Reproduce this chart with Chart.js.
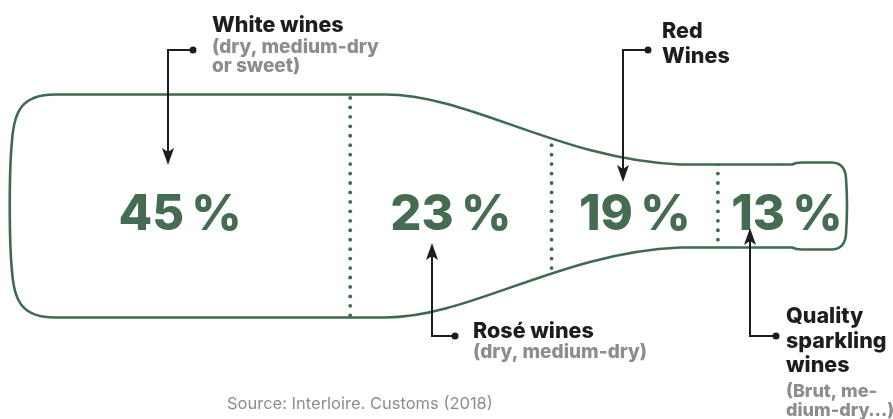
<!DOCTYPE html>
<html>
<head>
<meta charset="utf-8">
<script src="https://cdn.jsdelivr.net/npm/chart.js@4.4.0/dist/chart.umd.min.js"></script>
<style>
  html, body { margin: 0; padding: 0; background: #ffffff; }
  #bottleChart { display: block; }
</style>
</head>
<body>
<canvas id="bottleChart" width="893" height="419"></canvas>
<script>
// share of Loire wine exports by type
const categories = ['White wines', 'Rosé wines', 'Red Wines', 'Quality sparkling wines'];
const shares = [45, 23, 19, 13];
const titleLines = [['White wines'], ['Rosé wines'], ['Red', 'Wines'], ['Quality', 'sparkling', 'wines']];
const noteLines = [['(dry, medium-dry', 'or sweet)'], ['(dry, medium-dry)'], [], ['(Brut, me-', 'dium-dry\u2026)']];
const sourceText = 'Source: Interloire. Customs (2018)';

const GREEN = '#3f6a4d';
const DARK = '#1d1d1f';
const GREY = '#8d8d8f';
const FONT = 'Inter, "Open Sans", "DejaVu Sans", sans-serif';

// bottle outline, drawn around the bar row
function bottlePath(ctx, cy) {
  const t = (dy) => cy - dy;
  const b = (dy) => cy + dy;
  ctx.beginPath();
  ctx.moveTo(55, t(111.5));
  ctx.lineTo(385, t(111.5));
  ctx.bezierCurveTo(470, t(111.5), 560, t(46.5), 680, t(41.5));
  ctx.lineTo(792, t(41.5));
  ctx.quadraticCurveTo(796, t(43.5), 802, t(43.5));
  ctx.lineTo(832, t(43.5));
  ctx.quadraticCurveTo(845, t(43), 846, t(28));
  ctx.quadraticCurveTo(848, cy, 846, b(28));
  ctx.quadraticCurveTo(845, b(43), 832, b(43.5));
  ctx.lineTo(802, b(43.5));
  ctx.quadraticCurveTo(796, b(43.5), 792, b(41.5));
  ctx.lineTo(680, b(41.5));
  ctx.bezierCurveTo(560, b(46.5), 470, b(111.5), 385, b(111.5));
  ctx.lineTo(55, b(111.5));
  ctx.bezierCurveTo(22, b(111.5), 14, b(95), 12, b(65));
  ctx.bezierCurveTo(9, b(35), 9, t(35), 12, t(65));
  ctx.bezierCurveTo(14, t(95), 22, t(111.5), 55, t(111.5));
  ctx.closePath();
}

function arrowHead(ctx, x, tipY, dir) {
  ctx.beginPath();
  ctx.moveTo(x, tipY);
  ctx.lineTo(x - 6, tipY - dir * 17);
  ctx.lineTo(x, tipY - dir * 13);
  ctx.lineTo(x + 6, tipY - dir * 17);
  ctx.closePath();
  ctx.fill();
}

function callout(ctx, c) {
  ctx.save();
  ctx.strokeStyle = DARK;
  ctx.fillStyle = DARK;
  ctx.lineWidth = 2;
  ctx.beginPath();
  ctx.moveTo(c.dot[0], c.dot[1]);
  ctx.lineTo(c.ax, c.dot[1]);
  ctx.lineTo(c.ax, c.tip - c.dir * 12);
  ctx.stroke();
  arrowHead(ctx, c.ax, c.tip, c.dir);
  ctx.beginPath();
  ctx.arc(c.dot[0], c.dot[1], 3.5, 0, Math.PI * 2);
  ctx.fill();

  ctx.textAlign = 'left';
  ctx.textBaseline = 'alphabetic';
  let y = c.textY;
  ctx.fillStyle = DARK;
  ctx.font = '800 ' + c.titleSize + 'px ' + FONT;
  titleLines[c.idx].forEach((line, i) => {
    if (i > 0) y += c.titleGap;
    ctx.fillText(line, c.tx, y);
  });
  ctx.fillStyle = GREY;
  ctx.font = '800 ' + c.noteSize + 'px ' + FONT;
  noteLines[c.idx].forEach((line, i) => {
    y += i === 0 ? c.firstNoteGap : c.noteGap;
    ctx.fillText(line, c.tx, y);
  });
  ctx.restore();
}

const callouts = [
  { idx: 0, dot: [193, 50], ax: 168, tip: 165, dir: 1, tx: 212, textY: 32, titleSize: 21.5, titleGap: 24, noteSize: 19, firstNoteGap: 21, noteGap: 18.5 },
  { idx: 2, dot: [648, 50], ax: 623, tip: 182, dir: 1, tx: 662, textY: 38, titleSize: 21.5, titleGap: 25, noteSize: 19, firstNoteGap: 21, noteGap: 19 },
  { idx: 1, dot: [455, 336], ax: 432, tip: 243, dir: -1, tx: 473, textY: 338, titleSize: 21.5, titleGap: 24, noteSize: 19, firstNoteGap: 20, noteGap: 19 },
  { idx: 3, dot: [776, 336], ax: 750, tip: 228, dir: -1, tx: 786, textY: 323, titleSize: 21.5, titleGap: 24.5, noteSize: 18, firstNoteGap: 25, noteGap: 19 }
];

const bottlePlugin = {
  id: 'bottle',
  afterDatasetsDraw(chart) {
    const ctx = chart.ctx;
    const bars = chart.data.datasets.map((d, i) => chart.getDatasetMeta(i).data[0]);
    const cy = bars[0].y;
    const bottleLeft = 10, bottleRight = 846;

    // dotted dividers at segment boundaries, clipped to the bottle
    ctx.save();
    bottlePath(ctx, cy);
    ctx.clip();
    ctx.fillStyle = GREEN;
    bars.slice(0, -1).forEach(bar => {
      for (let y = cy - 120 + 2.5; y < cy + 120; y += 9.45) {
        ctx.beginPath();
        ctx.arc(bar.x, y, 1.9, 0, Math.PI * 2);
        ctx.fill();
      }
    });
    ctx.restore();

    ctx.save();
    bottlePath(ctx, cy);
    ctx.strokeStyle = GREEN;
    ctx.lineWidth = 2.6;
    ctx.stroke();
    ctx.restore();

    // percentage labels at segment centres (outer segments run to the bottle ends)
    ctx.save();
    ctx.fillStyle = '#456c51';
    ctx.font = '800 49px ' + FONT;
    ctx.textAlign = 'center';
    ctx.textBaseline = 'alphabetic';
    bars.forEach((bar, i) => {
      const left = i === 0 ? bottleLeft : bar.base;
      const right = i === bars.length - 1 ? bottleRight : bar.x;
      ctx.fillText(shares[i] + '\u2009%', (left + right) / 2 + (i === bars.length - 1 ? 5 : 0), cy + 24);
    });
    ctx.restore();

    callouts.forEach(c => callout(ctx, c));

    ctx.save();
    ctx.fillStyle = GREY;
    ctx.font = '400 16.5px ' + FONT;
    ctx.textAlign = 'left';
    ctx.fillText(sourceText, 227, 409);
    ctx.restore();
  }
};

new Chart(document.getElementById('bottleChart'), {
  type: 'bar',
  data: {
    labels: ['Exports'],
    datasets: categories.map((name, i) => ({
      label: name,
      data: [shares[i]],
      backgroundColor: 'rgba(0,0,0,0)',
      borderWidth: 0,
      barPercentage: 1,
      categoryPercentage: 1
    }))
  },
  options: {
    indexAxis: 'y',
    responsive: false,
    animation: false,
    layout: { padding: { left: 0, right: 0, top: 0, bottom: 7 } },
    plugins: {
      legend: { display: false },
      tooltip: { enabled: false }
    },
    scales: {
      x: { stacked: true, min: 5, max: 107, display: false },
      y: { stacked: true, display: false }
    }
  },
  plugins: [bottlePlugin]
});
</script>
</body>
</html>
